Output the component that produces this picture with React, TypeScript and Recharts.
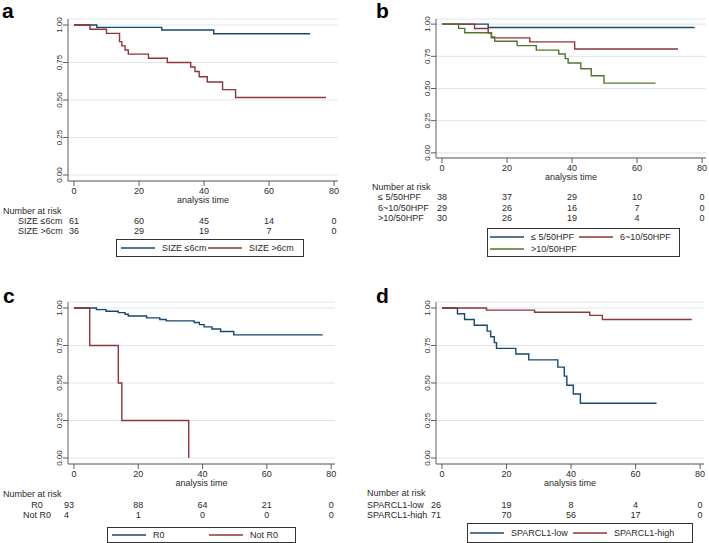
import React from "react";
import { CartesianGrid, Line, LineChart, XAxis, YAxis } from "recharts";

const TIMES = [0, 20, 40, 60, 80];
const SURV_TICKS = [0, 0.25, 0.5, 0.75, 1];

// a: tumour size
const sizeSmallTime = [0, 7, 27, 43, 72.6];
const sizeSmallSurv = [1, 0.984, 0.967, 0.942, 0.942];
const sizeLargeTime = [0, 4.9, 10, 14, 14.7, 15.7, 16.7, 22.9, 28.7, 35.9, 37.2, 38.5, 41, 45.7, 49.7, 77.5];
const sizeLargeSurv = [1, 0.972, 0.944, 0.889, 0.861, 0.833, 0.806, 0.778, 0.75, 0.72, 0.69, 0.655, 0.62, 0.569, 0.517, 0.517];
const sizeRiskSmall = [61, 60, 45, 14, 0];
const sizeRiskLarge = [36, 29, 19, 7, 0];

// b: mitotic count
const hpfLowTime = [0, 14.2, 77.7];
const hpfLowSurv = [1, 0.974, 0.974];
const hpfMidTime = [0, 10, 14.2, 15.2, 27, 40.8, 72.6];
const hpfMidSurv = [1, 0.966, 0.931, 0.893, 0.862, 0.807, 0.807];
const hpfHighTime = [0, 5.1, 7, 15.2, 16.2, 23.1, 29, 35.9, 37.9, 38.8, 42.7, 45.9, 49.8, 65.7];
const hpfHighSurv = [1, 0.967, 0.933, 0.9, 0.867, 0.833, 0.798, 0.768, 0.732, 0.698, 0.654, 0.599, 0.542, 0.542];
const hpfRiskLow = [38, 37, 29, 10, 0];
const hpfRiskMid = [29, 26, 16, 7, 0];
const hpfRiskHigh = [30, 26, 19, 4, 0];

// c: resection
const r0Time = [0, 7, 10, 13.8, 15.9, 16.9, 22.6, 26.7, 28.7, 37.4, 39, 40.5, 42.9, 45.6, 49.7, 77.4];
const r0Surv = [1, 0.989, 0.978, 0.969, 0.958, 0.947, 0.934, 0.923, 0.914, 0.903, 0.889, 0.874, 0.86, 0.843, 0.821, 0.821];
const notR0Time = [0, 4.9, 13.8, 14.9, 35.7];
const notR0Surv = [1, 0.75, 0.5, 0.25, 0];
const r0Risk = [93, 88, 64, 21, 0];
const notR0Risk = [4, 1, 0, 0, 0];

// d: SPARCL1
const sparcLowTime = [0, 4.8, 7, 10, 14, 15.1, 16.2, 16.9, 22.9, 26.9, 35.9, 37.9, 38.7, 40.7, 42.9, 66.5];
const sparcLowSurv = [1, 0.962, 0.923, 0.885, 0.846, 0.808, 0.769, 0.731, 0.693, 0.654, 0.606, 0.546, 0.485, 0.427, 0.365, 0.365];
const sparcHighTime = [0, 13.8, 28.7, 45.8, 49.7, 77.4];
const sparcHighSurv = [1, 0.986, 0.972, 0.951, 0.923, 0.923];
const sparcRiskLow = [26, 19, 8, 4, 0];
const sparcRiskHigh = [71, 70, 56, 17, 0];

const NAVY = "#1a476f";
const MAROON = "#90353b";
const GREEN = "#55752f";
const TEXT = "#2a2a2a";
const AXIS = "#5f5f5f";
const GRID = "#dde7ea";
const FONT = "'Liberation Sans', Arial, sans-serif";

const zip = (t: number[], s: number[]) => t.map((v, i) => ({ t: v, s: s[i] }));

interface Series { name: string; color: string; data: { t: number; s: number }[] }
interface RiskRow { label: string; counts: number[] }
interface Panel {
  letter: string;
  series: Series[];
  risk: RiskRow[];
  left: number; top: number; width: number;
  yAxisW: number; marginRight: number; plotH: number;
  mainXH: number; labelOffset: number; headerH: number; rowH: number;
  headerX: number; labelX: number; labelAnchor: "start" | "middle" | "end";
  firstDx: number; firstAnchor: "start" | "middle" | "end";
  letterX: number; letterY: number;
  legend: { x: number; y: number; w: number; h: number; col: number; pad: number };
}

const panels: Panel[] = [
  {
    letter: "a",
    series: [
      { name: "SIZE ≤6cm", color: NAVY, data: zip(sizeSmallTime, sizeSmallSurv) },
      { name: "SIZE >6cm", color: MAROON, data: zip(sizeLargeTime, sizeLargeSurv) },
    ],
    risk: [
      { label: "SIZE ≤6cm", counts: sizeRiskSmall },
      { label: "SIZE >6cm", counts: sizeRiskLarge },
    ],
    left: 0, top: 0, width: 354, yAxisW: 68, marginRight: 16, plotH: 162,
    mainXH: 24, labelOffset: 2, headerH: 10, rowH: 10,
    headerX: 3, labelX: 18, labelAnchor: "start", firstDx: 0, firstAnchor: "middle",
    letterX: 2, letterY: 18,
    legend: { x: 116, y: 239, w: 188, h: 18, col: 87, pad: 4 },
  },
  {
    letter: "b",
    series: [
      { name: "≤ 5/50HPF", color: NAVY, data: zip(hpfLowTime, hpfLowSurv) },
      { name: "6~10/50HPF", color: MAROON, data: zip(hpfMidTime, hpfMidSurv) },
      { name: ">10/50HPF", color: GREEN, data: zip(hpfHighTime, hpfHighSurv) },
    ],
    risk: [
      { label: "≤ 5/50HPF", counts: hpfRiskLow },
      { label: "6~10/50HPF", counts: hpfRiskMid },
      { label: ">10/50HPF", counts: hpfRiskHigh },
    ],
    left: 355, top: 0, width: 354, yAxisW: 81, marginRight: 3, plotH: 139,
    mainXH: 23, labelOffset: 1, headerH: 10, rowH: 10.5,
    headerX: 17, labelX: 23, labelAnchor: "start", firstDx: 0, firstAnchor: "middle",
    letterX: 21, letterY: 18,
    legend: { x: 487, y: 228, w: 193, h: 29, col: 89, pad: 2 },
  },
  {
    letter: "c",
    series: [
      { name: "R0", color: NAVY, data: zip(r0Time, r0Surv) },
      { name: "Not R0", color: MAROON, data: zip(notR0Time, notR0Surv) },
    ],
    risk: [
      { label: "R0", counts: r0Risk },
      { label: "Not R0", counts: notR0Risk },
    ],
    left: 0, top: 283, width: 354, yAxisW: 68, marginRight: 19, plotH: 162,
    mainXH: 23.5, labelOffset: 1, headerH: 11, rowH: 10.5,
    headerX: 3, labelX: 37, labelAnchor: "middle", firstDx: -10, firstAnchor: "start",
    letterX: 3, letterY: 20,
    legend: { x: 107, y: 527, w: 189, h: 16, col: 97, pad: 4 },
  },
  {
    letter: "d",
    series: [
      { name: "SPARCL1-low", color: NAVY, data: zip(sparcLowTime, sparcLowSurv) },
      { name: "SPARCL1-high", color: MAROON, data: zip(sparcHighTime, sparcHighSurv) },
    ],
    risk: [
      { label: "SPARCL1-low", counts: sparcRiskLow },
      { label: "SPARCL1-high", counts: sparcRiskHigh },
    ],
    left: 355, top: 283, width: 354, yAxisW: 81, marginRight: 5, plotH: 162,
    mainXH: 22.5, labelOffset: 0.5, headerH: 12, rowH: 10,
    headerX: 12, labelX: 12, labelAnchor: "start", firstDx: -11, firstAnchor: "start",
    letterX: 21, letterY: 20,
    legend: { x: 467, y: 523, w: 226, h: 20, col: 103, pad: 2 },
  },
];

const X_DOMAIN: [number, number] = [-1.85, 81.2];
const Y_DOMAIN: [number, number] = [-0.04, 1.04];
const TICK_LEN = 5;

const SurvTick = (props: any) => {
  const { x, y, payload } = props;
  return (
    <text x={x} y={y} transform={`rotate(-90 ${x} ${y})`} textAnchor="middle" fontSize={8} fill={TEXT}>
      {Number(payload.value).toFixed(2)}
    </text>
  );
};

// time tick: label plus the number-at-risk column below it
const timeTick = (p: Panel) => (props: any) => {
  const { x, y, payload } = props;
  const v = payload.value;
  const i = TIMES.indexOf(v);
  const axisY = y - TICK_LEN;
  const headerBase = axisY + p.mainXH + 9;
  const rowBase = (k: number) => axisY + p.mainXH + p.headerH + k * p.rowH + 9;
  return (
    <g fontSize={9} fill={TEXT}>
      <text x={x} y={y + 8} textAnchor="middle">{v}</text>
      {v === 0 && <text x={p.headerX} y={headerBase}>Number at risk</text>}
      {p.risk.map((row, k) =>
        v === 0 ? (
          <g key={row.label}>
            <text x={p.labelX} y={rowBase(k)} textAnchor={p.labelAnchor}>{row.label}</text>
            <text x={x + p.firstDx} y={rowBase(k)} textAnchor={p.firstAnchor}>{row.counts[0]}</text>
          </g>
        ) : (
          <text key={row.label} x={x} y={rowBase(k)} textAnchor="middle">{row.counts[i]}</text>
        )
      )}
    </g>
  );
};

function KMPanel({ p }: { p: Panel }) {
  const xAxisH = p.mainXH + p.headerH + p.rowH * p.risk.length;
  const height = 19 + p.plotH + xAxisH;
  return (
    <>
      <div style={{ position: "absolute", left: p.left + p.letterX, top: p.top + p.letterY - 15, fontSize: 21, fontWeight: "bold", lineHeight: "16px", color: "#000" }}>
        {p.letter}
      </div>
      <div style={{ position: "absolute", left: p.left, top: p.top }}>
        <LineChart width={p.width} height={height} margin={{ top: 19, right: p.marginRight, bottom: 0, left: 0 }} style={{ fontFamily: FONT }}>
          <CartesianGrid vertical={false} stroke={GRID} />
          <XAxis
            dataKey="t" type="number" domain={X_DOMAIN} allowDataOverflow ticks={TIMES} interval={0}
            stroke={AXIS} tickSize={TICK_LEN} tickMargin={0} height={xAxisH} tick={timeTick(p)}
            label={{ value: "analysis time", position: "insideTop", offset: p.mainXH - p.labelOffset - 6.4, fontSize: 9, fill: TEXT }}
          />
          <YAxis
            type="number" domain={Y_DOMAIN} allowDataOverflow ticks={SURV_TICKS} interval={0} width={p.yAxisW}
            stroke={AXIS} tickSize={TICK_LEN} tickMargin={1} tick={SurvTick}
          />
          {p.series.map((s) => (
            <Line
              key={s.name} data={s.data} dataKey="s" type="stepAfter" stroke={s.color}
              strokeWidth={1.4} dot={false} activeDot={false} isAnimationActive={false}
            />
          ))}
        </LineChart>
      </div>
      <div
        style={{
          position: "absolute", left: p.legend.x, top: p.legend.y, width: p.legend.w, height: p.legend.h,
          boxSizing: "border-box", border: "1px solid #333", background: "#fff",
          display: "grid", gridTemplateColumns: `${p.legend.col}px auto`, alignContent: "center",
          paddingLeft: p.legend.pad, fontFamily: FONT, fontSize: 9, color: TEXT, rowGap: 1,
        }}
      >
        {p.series.map((s) => (
          <div key={s.name} style={{ display: "flex", alignItems: "center", height: 11 }}>
            <svg width={34} height={4} style={{ marginRight: 7, flex: "none" }}>
              <line x1={0} x2={34} y1={2} y2={2} stroke={s.color} strokeWidth={1.3} />
            </svg>
            <span style={{ whiteSpace: "nowrap" }}>{s.name}</span>
          </div>
        ))}
      </div>
    </>
  );
}

export default function App() {
  return (
    <div style={{ position: "absolute", left: 0, top: 0, width: 709, height: 543, background: "#fff", overflow: "hidden", fontFamily: FONT }}>
      {panels.map((p) => (
        <KMPanel key={p.letter} p={p} />
      ))}
    </div>
  );
}
